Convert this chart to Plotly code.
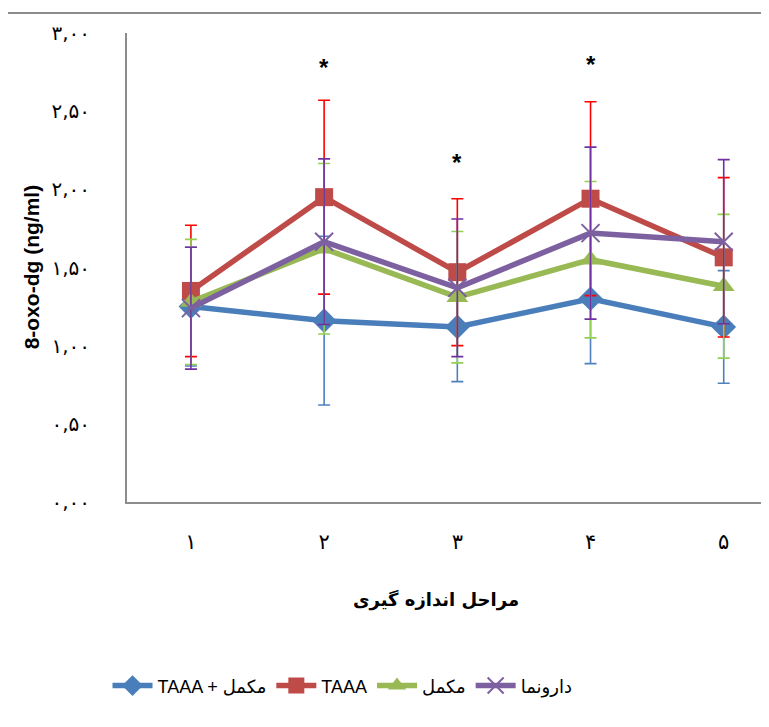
import plotly.graph_objects as go

# ---- data ----
stages = [1, 2, 3, 4, 5]
stage_labels = ["۱", "۲", "۳", "۴", "۵"]
y_tick_vals = [0, 0.5, 1.0, 1.5, 2.0, 2.5, 3.0]
y_tick_labels = ["۰,۰۰", "۰,۵۰", "۱,۰۰", "۱,۵۰", "۲,۰۰", "۲,۵۰", "۳,۰۰"]

series_names = ["TAAA + مکمل", "TAAA", "مکمل", "دارونما"]
combo_mean = [1.25, 1.16, 1.12, 1.30, 1.12]
combo_sd = [0.38, 0.54, 0.35, 0.415, 0.36]
taaa_mean = [1.35, 1.95, 1.47, 1.94, 1.565]
taaa_sd = [0.42, 0.62, 0.47, 0.62, 0.51]
supp_mean = [1.28, 1.62, 1.31, 1.55, 1.38]
supp_sd = [0.40, 0.545, 0.42, 0.50, 0.46]
placebo_mean = [1.24, 1.665, 1.37, 1.72, 1.665]
placebo_sd = [0.39, 0.53, 0.44, 0.55, 0.525]

star_x = [2, 3, 4]
star_y = [2.78, 2.17, 2.80]

x_title = "مراحل اندازه گیری"
y_title = "8-oxo-dg (ng/ml)"

FONT = "Liberation Sans, DejaVu Sans, sans-serif"

styles = [
    dict(line="#4A7EBB", err="#4F81BD", symbol="diamond", size=19),
    dict(line="#BE4B48", err="#FF0000", symbol="square", size=18),
    dict(line="#98B954", err="#92D050", symbol="triangle-up", size=19),
    dict(line="#7D60A0", err="#7030A0", symbol="x-thin-open", size=18),
]
means = [combo_mean, taaa_mean, supp_mean, placebo_mean]
sds = [combo_sd, taaa_sd, supp_sd, placebo_sd]

fig = go.Figure()
for name, m, s, st in zip(series_names, means, sds, styles):
    marker = dict(symbol=st["symbol"], size=st["size"], color=st["line"])
    if st["symbol"] == "x-thin-open":
        marker["line"] = dict(color=st["line"], width=2)
    fig.add_trace(go.Scatter(
        x=stages, y=m, name=name, mode="lines+markers",
        line=dict(color=st["line"], width=5.5),
        marker=marker,
        error_y=dict(type="data", array=s, visible=True,
                     color=st["err"], thickness=1.6, width=6),
    ))

for xs, ys in zip(star_x, star_y):
    fig.add_annotation(x=xs, y=ys, text="<b>*</b>", showarrow=False,
                       font=dict(size=24, color="black", family=FONT))

fig.add_annotation(xref="paper", yref="paper", x=0.475, y=-0.237,
                   text="<b>" + x_title + "</b>", showarrow=False,
                   font=dict(size=18, color="black", family="DejaVu Sans"))

fig.add_shape(type="rect", xref="paper", yref="paper",
              x0=-0.1854, y0=1.0426, x1=1.1, y1=-1.0,
              line=dict(color="#8C8C8C", width=2), layer="below")

fig.update_layout(
    width=769, height=727,
    margin=dict(l=119, r=0, t=25, b=233),
    paper_bgcolor="white", plot_bgcolor="white",
    font=dict(family=FONT, color="black"),
    showlegend=True,
    legend=dict(orientation="h", x=-0.03, xanchor="left", y=-0.392,
                yanchor="middle", font=dict(size=18, family=FONT),
                itemwidth=40, traceorder="normal"),
    xaxis=dict(range=[0.52, 5.40], tickmode="array", tickvals=stages,
               ticktext=stage_labels, showgrid=False, zeroline=False,
               showline=True, linecolor="#8C8C8C", linewidth=2,
               ticks="", ticklabelstandoff=20,
               tickfont=dict(size=21, family="DejaVu Sans")),
    yaxis=dict(range=[0, 3], tickmode="array", tickvals=y_tick_vals,
               ticktext=y_tick_labels, showgrid=False, zeroline=False,
               showline=True, linecolor="#8C8C8C", linewidth=2,
               ticks="", ticklabelstandoff=31,
               tickfont=dict(size=20, family="DejaVu Sans")),
)
fig.add_annotation(xref="paper", yref="paper", x=(33 - 127) / 642, y=0.5,
                   xanchor="center", yanchor="middle", textangle=-90,
                   text="<b>" + y_title + "</b>", showarrow=False,
                   font=dict(size=21, color="black", family=FONT))

fig.write_html("out.html")
